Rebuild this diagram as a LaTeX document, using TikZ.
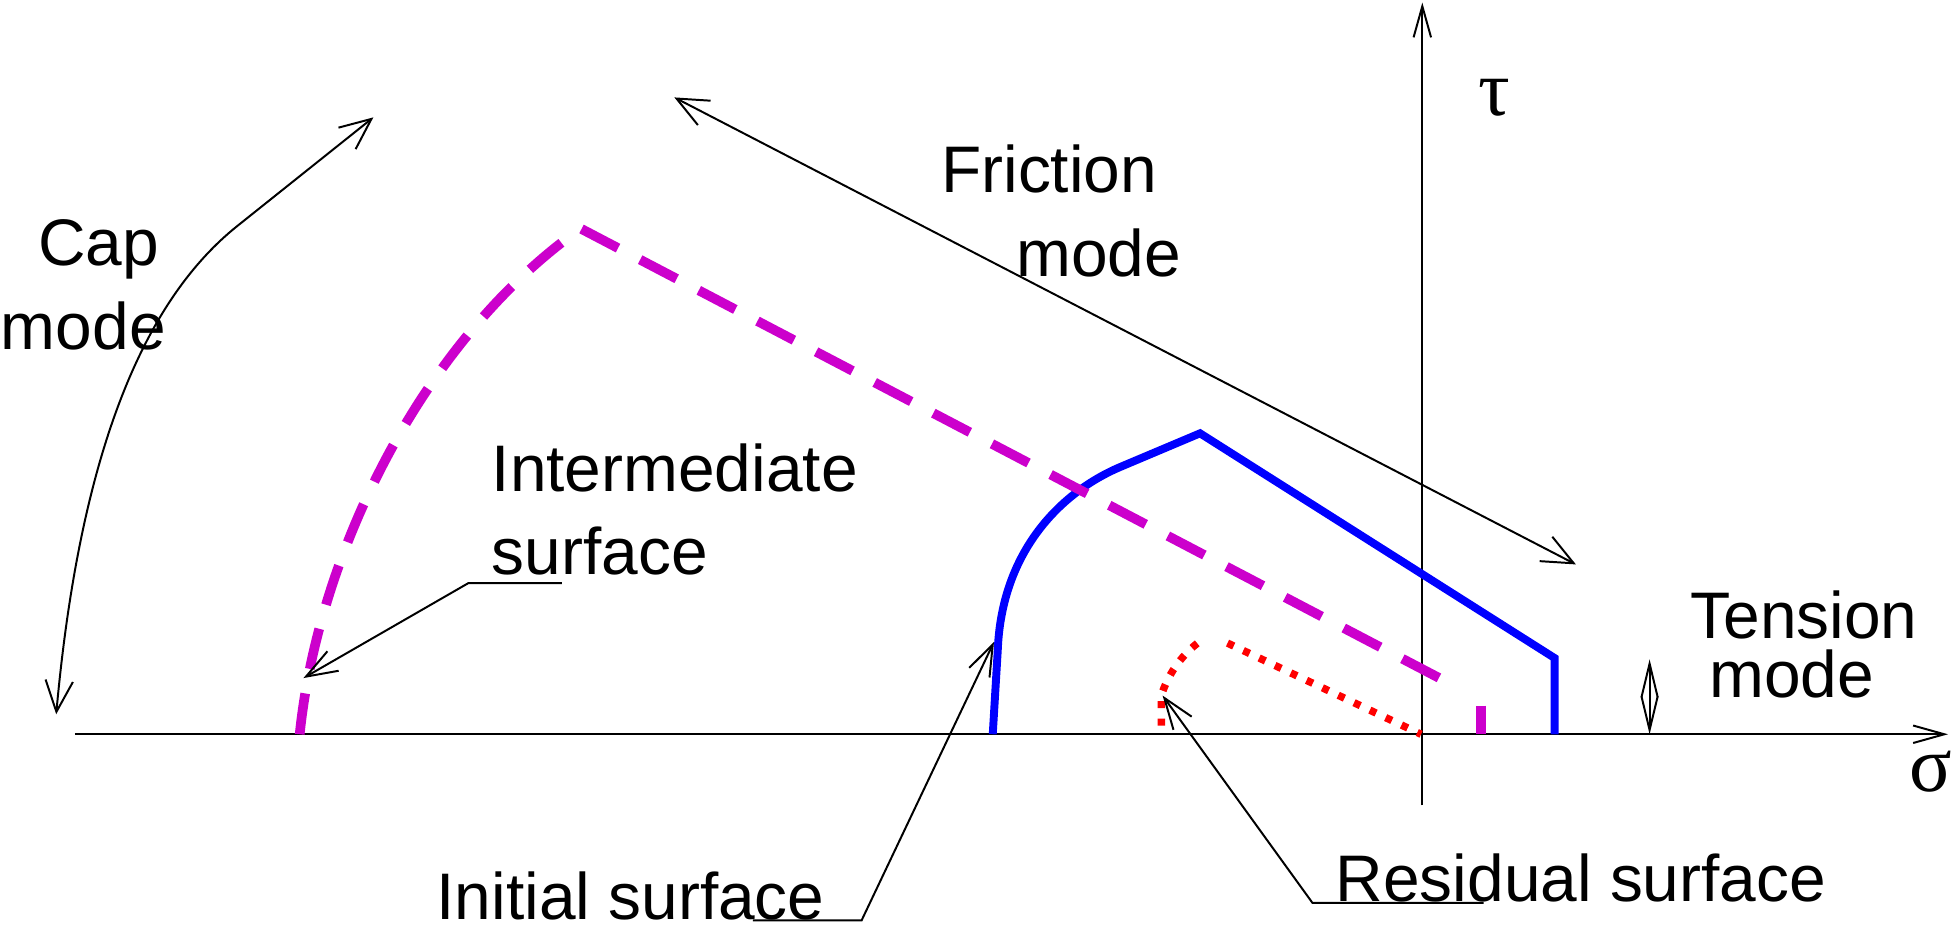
\documentclass[tikz,border=0pt]{standalone}
\usepackage{fontspec}
\setmainfont{Liberation Sans}
\newfontfamily\greekfont{Liberation Serif}
\usetikzlibrary{arrows.meta}
\definecolor{capmagenta}{RGB}{204,0,204}

\begin{document}
\begin{tikzpicture}[line width=0.45pt,
   txt/.style={font=\fontsize{15}{19}\selectfont, inner sep=0pt},
   greek/.style={font=\greekfont\fontsize{18}{20}\selectfont, inner sep=0pt},
   axis/.style={->, >={Straight Barb[length=2.5mm,width=1.4mm]}},
   modearrow/.style={<->, >={Straight Barb[length=2.5mm,width=2.2mm]}},
   tensarrow/.style={<->, >={Straight Barb[length=2.7mm,width=1.3mm]}},
   leader/.style={->, >={Straight Barb[length=2.5mm,width=1.8mm]}},
   initial/.style={blue, line width=1.8pt},
   intermediate/.style={capmagenta, line width=2.2pt, dash pattern=on 3.3mm off 2mm},
   residual/.style={red, line width=1.7pt, dash pattern=on 0.55mm off 0.85mm}]
\useasboundingbox (0,0) rectangle (15.68,7.41);

\coordinate(sl) at (0.60,1.53);
\coordinate(sr) at (15.60,1.53);
\coordinate(tb) at (11.39,0.96);
\coordinate(tt) at (11.39,7.39);

\draw[axis] (sl) -- (sr);
\draw[axis] (tb) -- (tt);
\node[greek] (sigma) at (15.46,1.23) {σ};
\node[greek] (tau) at (11.97,6.63) {τ};

\draw[initial] (7.95,1.53) -- (7.99,2.2) .. controls (8.02,3.0) and (8.5,3.47) .. (8.97,3.67)
   -- (9.61,3.94) -- (12.45,2.14) -- (12.45,1.53);
\draw[intermediate] (2.40,1.53) .. controls (2.55,3.0) and (3.4,4.7) .. (4.65,5.58) -- (11.66,1.91);
\draw[intermediate] (11.86,1.76) -- (11.86,1.53);
\draw[residual] (9.30,1.60) -- (9.30,1.84) .. controls (9.35,2.0) and (9.45,2.15) .. (9.59,2.26);
\draw[residual] (9.83,2.26) -- (11.38,1.53);

\coordinate(f1) at (5.40,6.63);
\coordinate(f2) at (12.62,2.89);
\draw[modearrow] (f1) -- (f2);
\coordinate(c1) at (0.45,1.69);
\coordinate(c2) at (2.99,6.47);
\draw[modearrow] (c1) .. controls (0.65,3.9) and (1.2,5.04) .. (1.9,5.6) -- (c2);
\coordinate(t1) at (13.21,1.53);
\coordinate(t2) at (13.21,2.13);
\draw[tensarrow] (t1) -- (t2);

\node[txt, anchor=west, align=left] (cap) at (0.0,5.13) {\hspace*{0.3cm}Cap\\mode};
\node[txt, anchor=west, align=left] (fric) at (7.53,5.72) {Friction\\\hspace*{0.6cm}mode};
\node[txt, anchor=west, align=left] (inter) at (3.93,3.33) {Intermediate\\surface};
\node[txt, anchor=west, align=left] (tens) at (13.53,2.25) {Tension\\[-0.2cm]\hspace*{0.15cm}mode};
\node[txt, anchor=base] (init) at (5.05,0.05) {Initial surface};
\node[txt, anchor=base] (resid) at (12.66,0.19) {Residual surface};

\coordinate(i1) at (4.50,2.74);
\coordinate(i2) at (3.75,2.74);
\coordinate(i3) at (2.43,1.98);
\draw[leader] (i1) -- (i2) -- (i3);
\coordinate(n1) at (6.03,0.04);
\coordinate(n2) at (6.90,0.04);
\coordinate(n3) at (7.96,2.27);
\draw[leader] (n1) -- (n2) -- (n3);
\coordinate(r1) at (11.88,0.18);
\coordinate(r2) at (10.51,0.18);
\coordinate(r3) at (9.31,1.84);
\draw[leader] (r1) -- (r2) -- (r3);
\end{tikzpicture}
\end{document}
